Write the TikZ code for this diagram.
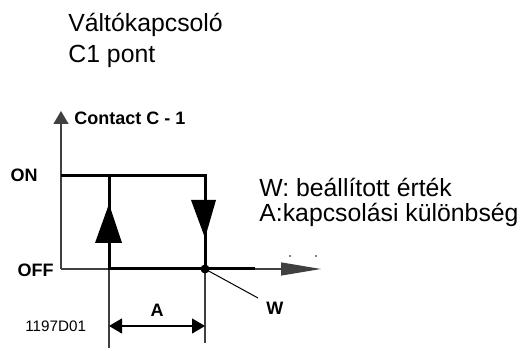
\documentclass[tikz,border=0pt]{standalone}
\usepackage{fontspec}
\setmainfont{Liberation Sans}
\usetikzlibrary{arrows.meta}

\begin{document}
\begin{tikzpicture}[x=0.5pt, y=-0.5pt,
  thinline/.style={line width=0.6pt, black!75},
  thickline/.style={line width=1.5pt, black},
  headtri/.style={fill=black, draw=none},
  boldlabel/.style={font=\bfseries\fontsize{9pt}{11pt}\selectfont, inner sep=0pt},
  textlabel/.style={font=\fontsize{12.4pt}{15pt}\selectfont, inner sep=0pt, anchor=base west}]
\useasboundingbox (0,0) rectangle (526,351);

% texts
\node[textlabel] (title) at (68,32) {Váltókapcsoló};
\node[textlabel] (subtitle) at (68,63) {C1 pont};
\node[textlabel] (legW) at (259,197) {W: beállított érték};
\node[textlabel] (legA) at (259,222) {A:kapcsolási különbség};
\node[boldlabel, anchor=base west] (ylabel) at (74,125) {Contact C - 1};
\node[boldlabel, anchor=base east] (on) at (38,182) {ON};
\node[boldlabel, anchor=base east] (off) at (54,277) {OFF};
\node[boldlabel, anchor=base] (lblA) at (157,317) {A};
\node[boldlabel, anchor=base west] (lblW) at (266,315) {W};
\node[font=\fontsize{7.6pt}{9pt}\selectfont, inner sep=0pt, anchor=base west] (code) at (25,332) {1197D01};

% points
\coordinate (origin) at (61,269);
\coordinate (ytop) at (61,111);
\coordinate (xend) at (321,269);
\coordinate (onleft) at (61,176);
\coordinate (up) at (109,176);
\coordinate (upbot) at (109,348);
\coordinate (lo) at (109,269);
\coordinate (dn) at (205,176);
\coordinate (w) at (205,269);
\coordinate (wbot) at (205,343);
\coordinate (offend) at (255,269);
\coordinate (leader) at (258,298);
\coordinate (dimL) at (109,326);
\coordinate (dimR) at (205,326);

% axes
\draw[thinline, -{Triangle[length=6.5pt, width=7.5pt]}] (origin) -- (ytop);
\draw[thinline, -{Triangle[length=20pt, width=6.5pt]}] (origin) -- (xend);
\draw[thinline] (lo) -- (upbot);
\draw[thinline] (w) -- (wbot);

% hysteresis loop
\draw[thickline] (onleft) -- (dn) -- (w);
\draw[thickline] (up) -- (lo) -- (offend);
\fill[headtri] (95,243) -- (122,243) -- (109,204) -- cycle;
\fill[headtri] (191,200) -- (216,200) -- (205,238) -- cycle;
\fill (w) circle (4.5);

% set point and differential
\draw[line width=0.5pt] (w) -- (leader);
\draw[thinline, black, {Triangle[length=6.5pt, width=7.5pt]}-{Triangle[length=6.5pt, width=7.5pt]}] (dimL) -- (dimR);

% specks
\fill (290,256) circle (0.8);
\fill (316,256) circle (0.8);
\end{tikzpicture}
\end{document}
